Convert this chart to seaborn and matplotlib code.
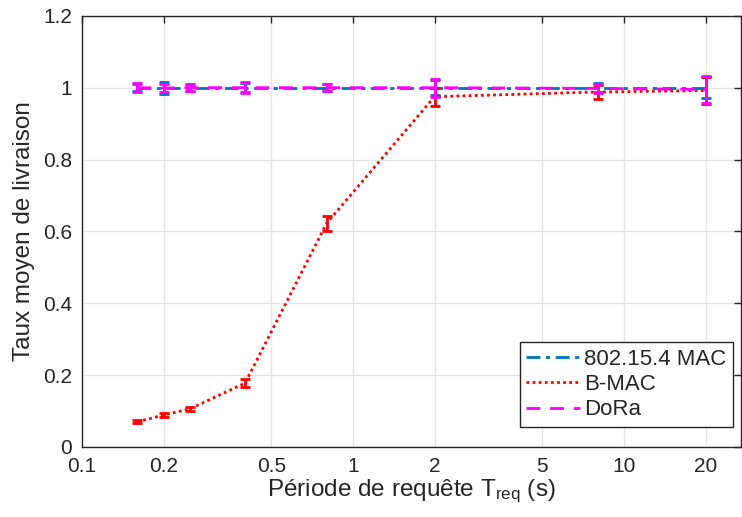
import numpy as np
import pandas as pd
import matplotlib
matplotlib.use('Agg')
import matplotlib.pyplot as plt
import seaborn as sns

# Request periods (s)
periods = [0.16, 0.2, 0.25, 0.4, 0.8, 2, 8, 20]

# Mean delivery ratio and error half-widths per protocol
mac_mean = [1.0, 1.0, 1.0, 1.0, 1.0, 1.0, 1.0, 1.0]
mac_err = [0.01, 0.017, 0.01, 0.012, 0.01, 0.02, 0.012, 0.03]

bmac_mean = [0.070, 0.089, 0.106, 0.178, 0.623, 0.975, 0.988, 0.992]
bmac_err = [0.004, 0.006, 0.005, 0.01, 0.021, 0.025, 0.02, 0.037]

dora_mean = [1.0, 0.999, 1.0, 1.0, 1.0, 1.0, 0.998, 0.995]
dora_err = [0.012, 0.01, 0.008, 0.015, 0.01, 0.025, 0.012, 0.038]

labels = ['802.15.4 MAC', 'B-MAC', 'DoRa']

sns.set_style('whitegrid')
plt.rcParams['font.family'] = ['Liberation Sans', 'DejaVu Sans']
plt.rcParams['mathtext.fontset'] = 'custom'
plt.rcParams['mathtext.rm'] = 'Liberation Sans'
plt.rcParams['mathtext.it'] = 'Liberation Sans'

df = pd.DataFrame({
    'period': periods * 3,
    'taux': mac_mean + bmac_mean + dora_mean,
    'err': mac_err + bmac_err + dora_err,
    'proto': [labels[0]] * 8 + [labels[1]] * 8 + [labels[2]] * 8,
})

colors = {'802.15.4 MAC': '#0072BD', 'B-MAC': '#FF0000', 'DoRa': '#FF00FF'}
styles = {'802.15.4 MAC': (0, (5, 2, 1.5, 2)), 'B-MAC': (0, (1, 1.2)), 'DoRa': (0, (5, 3.5))}

fig = plt.figure(figsize=(7.42, 5.17), dpi=100)
ax = fig.add_axes([0.1105, 0.1354, 0.888, 0.834])

for name in labels:
    sub = df[df['proto'] == name]
    sns.lineplot(data=sub, x='period', y='taux', ax=ax, color=colors[name],
                 linestyle=styles[name], linewidth=2, label=name, errorbar=None)
    ax.errorbar(sub['period'], sub['taux'], yerr=sub['err'], fmt='none',
                ecolor=colors[name], elinewidth=2, capsize=3.5, capthick=2)

ax.set_xscale('log')
ax.set_xlim(0.1, 27)
ax.set_ylim(0, 1.2)
xt = [0.1, 0.2, 0.5, 1, 2, 5, 10, 20]
ax.set_xticks(xt)
ax.set_xticklabels(['0.1', '0.2', '0.5', '1', '2', '5', '10', '20'])
ax.xaxis.set_minor_locator(matplotlib.ticker.NullLocator())
ax.set_yticks([0, 0.2, 0.4, 0.6, 0.8, 1, 1.2])
ax.set_yticklabels(['0', '0.2', '0.4', '0.6', '0.8', '1', '1.2'])

ax.grid(True, color='#e6e6e6', linewidth=1)
for s in ax.spines.values():
    s.set_visible(True)
    s.set_color('#262626')
    s.set_linewidth(1)
ax.tick_params(axis='both', direction='in', length=5, width=1, colors='#262626',
               labelsize=15, top=True, right=True, pad=7)

ax.set_xlabel('Période de requête T$_{\\mathrm{req}}$ (s)', fontsize=17.5, color='#262626', labelpad=1)
ax.set_ylabel('Taux moyen de livraison', fontsize=17.5, color='#262626', labelpad=6)

leg = ax.legend(loc='lower right', bbox_to_anchor=(0.988, 0.046), borderaxespad=0,
                fontsize=16, frameon=True, fancybox=False,
                edgecolor='#262626', framealpha=1, handlelength=2.4,
                labelspacing=0.2, handletextpad=0.2, borderpad=0.3)
leg.get_frame().set_linewidth(1)

fig.savefig('out.png', dpi=100)
